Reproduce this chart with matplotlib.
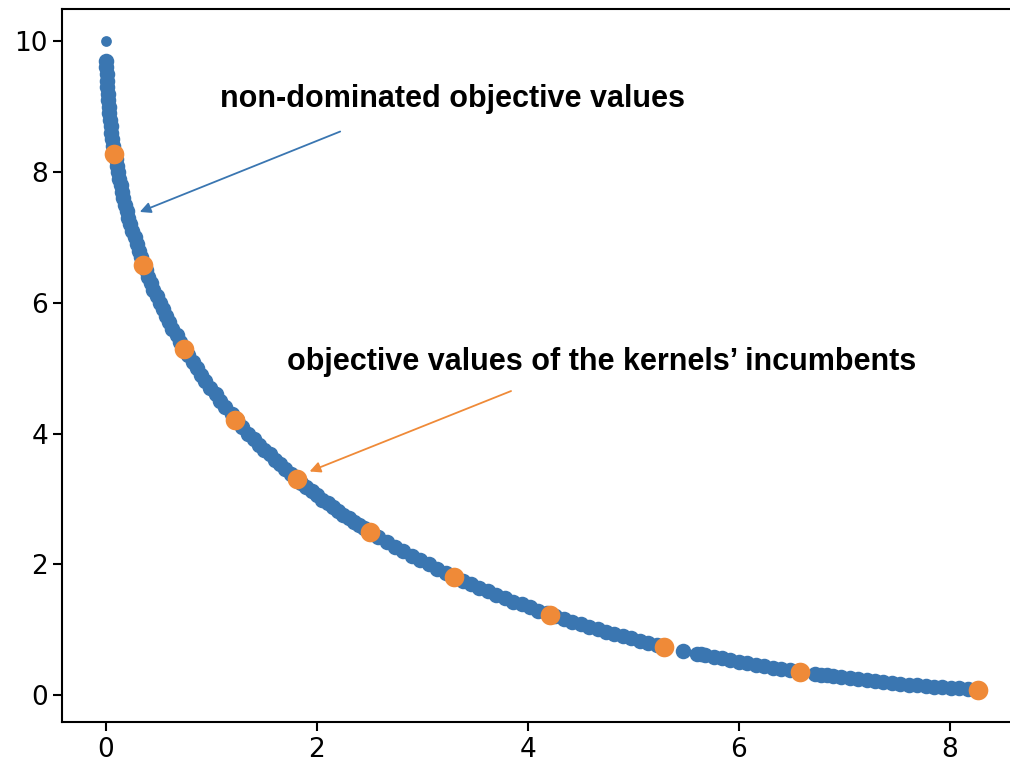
import matplotlib.pyplot as plt

# non-dominated objective values
front_x = [0.00,
           0.00, 0.00, 0.01, 0.01, 0.01, 0.02, 0.02, 0.03, 0.03, 0.04,
           0.05, 0.05, 0.06, 0.07, 0.08, 0.09, 0.10, 0.11, 0.12, 0.14,
           0.15, 0.16, 0.18, 0.20, 0.21, 0.23, 0.25, 0.27, 0.29, 0.31,
           0.33, 0.35, 0.38, 0.40, 0.43, 0.45, 0.48, 0.51, 0.54, 0.57,
           0.60, 0.63, 0.67, 0.70, 0.74, 0.78, 0.82, 0.86, 0.90, 0.94,
           0.99, 1.04, 1.08, 1.13, 1.19, 1.24, 1.29, 1.35,
           1.40, 1.45, 1.50, 1.55, 1.60, 1.65, 1.70, 1.75, 1.80, 1.85,
           1.90, 1.95, 2.00, 2.05, 2.10, 2.15, 2.20, 2.25, 2.30, 2.35,
           2.40, 2.45, 2.50,
           2.58, 2.66, 2.74, 2.82, 2.90, 2.98, 3.06, 3.14, 3.22, 3.30,
           3.38, 3.46, 3.54, 3.62, 3.70, 3.78, 3.86, 3.94, 4.02, 4.10,
           4.18, 4.26, 4.34, 4.42, 4.50, 4.58, 4.66, 4.74, 4.82, 4.90,
           4.98, 5.06, 5.14, 5.22, 5.30,
           5.47, 5.60, 5.64,
           5.68, 5.76, 5.84, 5.92, 6.00, 6.08, 6.16, 6.24, 6.32, 6.40,
           6.48, 6.56,
           6.72, 6.78, 6.84, 6.89,
           6.97, 7.05, 7.13, 7.21, 7.29, 7.37, 7.45, 7.53, 7.61, 7.69,
           7.77, 7.85, 7.93, 8.01, 8.09, 8.17, 8.25]
front_y = [10.00,
           9.70, 9.60, 9.50, 9.40, 9.30, 9.20, 9.10, 9.00, 8.90, 8.80,
           8.70, 8.60, 8.50, 8.40, 8.30, 8.20, 8.10, 8.00, 7.90, 7.80,
           7.70, 7.60, 7.50, 7.40, 7.30, 7.20, 7.10, 7.00, 6.90, 6.80,
           6.70, 6.60, 6.50, 6.40, 6.30, 6.20, 6.10, 6.00, 5.90, 5.80,
           5.70, 5.60, 5.50, 5.40, 5.30, 5.20, 5.10, 5.00, 4.90, 4.80,
           4.70, 4.60, 4.50, 4.40, 4.30, 4.20, 4.10, 4.00,
           3.92, 3.83, 3.75, 3.68, 3.60, 3.53, 3.45, 3.38, 3.31, 3.25,
           3.18, 3.12, 3.06, 2.99, 2.93, 2.88, 2.82, 2.76, 2.71, 2.65,
           2.60, 2.55, 2.50,
           2.42, 2.34, 2.27, 2.20, 2.13, 2.06, 2.00, 1.93, 1.87, 1.81,
           1.75, 1.70, 1.64, 1.59, 1.53, 1.48, 1.43, 1.39, 1.34, 1.29,
           1.25, 1.21, 1.16, 1.12, 1.08, 1.04, 1.01, 0.97, 0.93, 0.90,
           0.87, 0.83, 0.80, 0.77, 0.74,
           0.68, 0.63, 0.62,
           0.61, 0.58, 0.56, 0.53, 0.51, 0.49, 0.46, 0.44, 0.42, 0.40,
           0.38, 0.36,
           0.32, 0.31, 0.30, 0.29,
           0.27, 0.26, 0.24, 0.23, 0.21, 0.20, 0.19, 0.17, 0.16, 0.15,
           0.14, 0.13, 0.12, 0.11, 0.10, 0.09, 0.08]

# objective values of the kernels' incumbents
inc_x = [0.08, 0.35, 0.74, 1.22, 1.81, 2.50, 3.30, 4.21, 5.29, 6.58, 8.27]
inc_y = [8.27, 6.58, 5.29, 4.21, 3.30, 2.50, 1.81, 1.22, 0.74, 0.35, 0.08]

blue = '#3a76b1'
orange = '#ef8a38'

fig = plt.figure(figsize=(10.1, 7.67), dpi=100)
# right spine falls just outside the picture, as in the screenshot
ax = fig.add_axes([0.0618, 0.0584, 0.950, 0.930])

ax.scatter(front_x[:1], front_y[:1], s=60, color=blue, linewidths=0, zorder=2)
ax.scatter(front_x[1:], front_y[1:], s=125, color=blue, linewidths=0, zorder=2)
ax.scatter(inc_x, inc_y, s=200, color=orange, linewidths=0, zorder=3)

ax.set_xticks([0, 2, 4, 6, 8])
ax.set_yticks([0, 2, 4, 6, 8, 10])
ax.tick_params(labelsize=19, length=6.8, width=1.5)
for sp in ax.spines.values():
    sp.set_linewidth(1.5)

font = dict(family=['Liberation Sans', 'DejaVu Sans'], fontsize=22,
            fontweight='bold', va='baseline', ha='left')
ax.text(1.08, 9.0, 'non-dominated objective values', **font)
ax.text(1.72, 4.97, 'objective values of the kernels\u2019 incumbents', **font)

ax.annotate('', xy=(0.32, 7.39), xytext=(2.22, 8.62),
            arrowprops=dict(arrowstyle='-|>', color=blue, lw=1.3,
                            mutation_scale=16, shrinkA=0, shrinkB=0))
ax.annotate('', xy=(1.93, 3.42), xytext=(3.84, 4.65),
            arrowprops=dict(arrowstyle='-|>', color=orange, lw=1.3,
                            mutation_scale=16, shrinkA=0, shrinkB=0))

fig.savefig('out.png', dpi=100)
